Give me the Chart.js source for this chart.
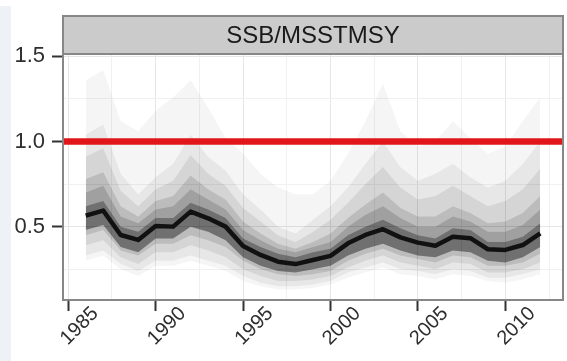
<!DOCTYPE html>
<html>
<head>
<meta charset="utf-8">
<script src="https://cdn.jsdelivr.net/npm/chart.js@4.4.1/dist/chart.umd.min.js"></script>
<style>
  html, body { margin: 0; padding: 0; background: #fff; }
  #wrap { position: relative; width: 567px; height: 361px; }
  #edge { position: absolute; left: 0; top: 6px; width: 11px; height: 355px; background: #eef2f6; }
  #chart { position: absolute; left: 0; top: 0; }
</style>
</head>
<body>
<div id="wrap">
  <div id="edge"></div>
  <canvas id="chart" width="567" height="361"></canvas>
</div>
<script>
// --- data ---
const years = [1986, 1987, 1988, 1989, 1990, 1991, 1992, 1993, 1994, 1995, 1996, 1997, 1998, 1999,
               2000, 2001, 2002, 2003, 2004, 2005, 2006, 2007, 2008, 2009, 2010, 2011, 2012];

// median trajectory (black line)
const median = [0.565, 0.594, 0.451, 0.422, 0.504, 0.500, 0.588, 0.549, 0.500, 0.386, 0.334, 0.294, 0.280, 0.304,
                0.328, 0.402, 0.451, 0.485, 0.437, 0.406, 0.388, 0.441, 0.432, 0.367, 0.363, 0.392, 0.461];

// envelope of the grey trajectories, outer to inner
const maxEnv = [1.36, 1.42, 1.12, 1.06, 1.18, 1.26, 1.36, 1.20, 1.02, 0.93, 0.81, 0.73, 0.69, 0.69,
                0.77, 0.93, 1.12, 1.34, 1.06, 0.97, 1.00, 1.12, 1.02, 0.93, 0.97, 1.12, 1.26];
const minEnv = [0.30, 0.33, 0.25, 0.21, 0.27, 0.27, 0.30, 0.27, 0.24, 0.18, 0.15, 0.13, 0.13, 0.14,
                0.16, 0.20, 0.23, 0.26, 0.22, 0.21, 0.19, 0.22, 0.21, 0.18, 0.17, 0.19, 0.22];
const hi90 = [1.04, 1.10, 0.81, 0.69, 0.79, 0.87, 1.04, 0.91, 0.83, 0.69, 0.60, 0.50, 0.46, 0.54,
              0.62, 0.73, 0.87, 1.00, 0.85, 0.77, 0.81, 0.87, 0.79, 0.73, 0.77, 0.87, 1.00];
const lo05 = [0.33, 0.36, 0.28, 0.24, 0.30, 0.30, 0.33, 0.30, 0.27, 0.21, 0.17, 0.15, 0.15, 0.16,
              0.18, 0.23, 0.26, 0.29, 0.25, 0.24, 0.22, 0.25, 0.24, 0.20, 0.20, 0.22, 0.25];
const hi83 = [0.91, 0.96, 0.71, 0.62, 0.72, 0.77, 0.92, 0.81, 0.74, 0.61, 0.53, 0.45, 0.41, 0.47,
              0.54, 0.64, 0.75, 0.85, 0.73, 0.66, 0.68, 0.74, 0.68, 0.62, 0.65, 0.72, 0.84];
const lo15 = [0.39, 0.42, 0.32, 0.28, 0.35, 0.35, 0.39, 0.36, 0.32, 0.25, 0.21, 0.18, 0.18, 0.19,
              0.21, 0.26, 0.30, 0.33, 0.29, 0.27, 0.25, 0.29, 0.28, 0.23, 0.23, 0.25, 0.29];
const hi75 = [0.78, 0.82, 0.62, 0.56, 0.65, 0.68, 0.80, 0.72, 0.66, 0.53, 0.46, 0.40, 0.37, 0.41,
              0.46, 0.55, 0.63, 0.70, 0.61, 0.56, 0.56, 0.62, 0.58, 0.52, 0.53, 0.58, 0.68];
const lo25 = [0.45, 0.48, 0.36, 0.33, 0.40, 0.40, 0.45, 0.42, 0.38, 0.30, 0.25, 0.22, 0.21, 0.22,
              0.24, 0.30, 0.34, 0.37, 0.33, 0.31, 0.29, 0.33, 0.32, 0.27, 0.27, 0.29, 0.34];
const hi65 = [0.70, 0.74, 0.56, 0.52, 0.60, 0.62, 0.72, 0.66, 0.60, 0.48, 0.42, 0.37, 0.35, 0.38,
              0.41, 0.50, 0.57, 0.62, 0.55, 0.50, 0.50, 0.56, 0.53, 0.47, 0.47, 0.51, 0.60];
const coreHi = [0.62, 0.65, 0.50, 0.47, 0.55, 0.55, 0.64, 0.60, 0.55, 0.43, 0.38, 0.34, 0.32, 0.35,
                0.37, 0.45, 0.50, 0.54, 0.49, 0.45, 0.43, 0.49, 0.48, 0.41, 0.41, 0.44, 0.52];
const coreLo = [0.48, 0.51, 0.38, 0.35, 0.43, 0.43, 0.50, 0.47, 0.42, 0.32, 0.27, 0.24, 0.23, 0.25,
                0.27, 0.33, 0.37, 0.40, 0.36, 0.33, 0.32, 0.36, 0.35, 0.30, 0.29, 0.32, 0.38];

const refLevel = 1.0;

const xMajor = [1985, 1990, 1995, 2000, 2005, 2010];
const xMinor = [1987.5, 1992.5, 1997.5, 2002.5, 2007.5, 2012.5];
const yMajor = [0.5, 1.0, 1.5];
const yMinor = [0.25, 0.75, 1.25];

const X_MIN = 1984.7, X_MAX = 2013.3;
const Y_MIN = 0.069, Y_MAX = 1.514;

const STRIP_LABEL = 'SSB/MSSTMSY';
const STRIP_H = 38;
const FONT = '"Liberation Sans", Arial, Helvetica, sans-serif';

// --- helpers ---
const toPoints = arr => arr.map((v, i) => ({ x: years[i], y: v }));

const bands = [
    { upper: coreHi, lower: coreLo, alpha: 0.30 },
    { upper: hi65, lower: coreLo, alpha: 0.15 },
    { upper: hi75, lower: lo25, alpha: 0.12 },
    { upper: hi83, lower: lo15, alpha: 0.08 },
    { upper: hi90, lower: lo05, alpha: 0.06 },
    { upper: maxEnv, lower: minEnv, alpha: 0.04 }
];

const datasets = [
    {
        data: toPoints(median),
        borderColor: '#111',
        borderWidth: 4.5,
        borderJoinStyle: 'round',
        pointRadius: 0,
        fill: false
    },
    {
        data: [{ x: X_MIN, y: refLevel }, { x: X_MAX, y: refLevel }],
        borderColor: '#e0161b',
        borderWidth: 6.5,
        pointRadius: 0,
        fill: false
    }
];

bands.forEach(b => {
    datasets.push({
        data: toPoints(b.upper),
        borderWidth: 0,
        borderColor: 'rgba(0,0,0,0)',
        backgroundColor: `rgba(0,0,0,${b.alpha})`,
        pointRadius: 0,
        fill: '+1'
    });
    datasets.push({
        data: toPoints(b.lower),
        borderWidth: 0,
        borderColor: 'rgba(0,0,0,0)',
        pointRadius: 0,
        fill: false
    });
});

// facet strip + panel border, like ggplot
const facetStrip = {
    id: 'facetStrip',
    afterDraw(chart) {
        const { ctx, chartArea: a } = chart;
        ctx.save();
        ctx.fillStyle = '#cbcbcb';
        ctx.fillRect(a.left, a.top - STRIP_H, a.right - a.left, STRIP_H);
        ctx.strokeStyle = '#878787';
        ctx.lineWidth = 2;
        ctx.strokeRect(a.left, a.top - STRIP_H, a.right - a.left, STRIP_H);
        ctx.strokeRect(a.left, a.top, a.right - a.left, a.bottom - a.top);
        ctx.fillStyle = '#1a1a1a';
        ctx.font = '24px ' + FONT;
        ctx.textAlign = 'center';
        ctx.textBaseline = 'middle';
        ctx.fillText(STRIP_LABEL, (a.left + a.right) / 2, a.top - STRIP_H / 2 + 1);
        ctx.restore();
    }
};

new Chart(document.getElementById('chart'), {
    type: 'line',
    data: { datasets },
    plugins: [facetStrip],
    options: {
        responsive: false,
        animation: false,
        layout: { padding: { top: 54, right: 4, left: 0, bottom: 0 } },
        plugins: { legend: { display: false }, tooltip: { enabled: false } },
        elements: { line: { tension: 0 } },
        scales: {
            x: {
                type: 'linear',
                min: X_MIN,
                max: X_MAX,
                afterBuildTicks: axis => {
                    axis.ticks = [...xMajor, ...xMinor].sort((a, b) => a - b).map(v => ({ value: v }));
                },
                afterFit: axis => { axis.height = 61; },
                border: { display: false },
                grid: {
                    color: ctx => xMajor.includes(ctx.tick.value) ? '#e6e6e6' : '#f1f1f1',
                    lineWidth: 1,
                    drawTicks: true,
                    tickLength: 11,
                    tickWidth: 2,
                    tickColor: ctx => xMajor.includes(ctx.tick.value) ? '#333' : 'rgba(0,0,0,0)'
                },
                ticks: {
                    autoSkip: false,
                    minRotation: 45,
                    maxRotation: 45,
                    padding: -9,
                    labelOffset: 27,
                    color: '#2e2e2e',
                    font: { family: FONT, size: 20 },
                    callback: v => xMajor.includes(v) ? String(v) : ''
                }
            },
            y: {
                type: 'linear',
                min: Y_MIN,
                max: Y_MAX,
                afterBuildTicks: axis => {
                    axis.ticks = [...yMinor, ...yMajor].sort((a, b) => a - b).map(v => ({ value: v }));
                },
                afterFit: axis => { axis.width = 63; },
                border: { display: false },
                grid: {
                    color: ctx => yMajor.includes(ctx.tick.value) ? '#e6e6e6' : '#f1f1f1',
                    lineWidth: 1,
                    drawTicks: true,
                    tickLength: 11,
                    tickWidth: 2,
                    tickColor: ctx => yMajor.includes(ctx.tick.value) ? '#333' : 'rgba(0,0,0,0)'
                },
                ticks: {
                    autoSkip: false,
                    padding: 7,
                    color: '#2e2e2e',
                    font: { family: FONT, size: 22 },
                    callback: v => yMajor.includes(v) ? v.toFixed(1) : ''
                }
            }
        }
    }
});
</script>
</body>
</html>
